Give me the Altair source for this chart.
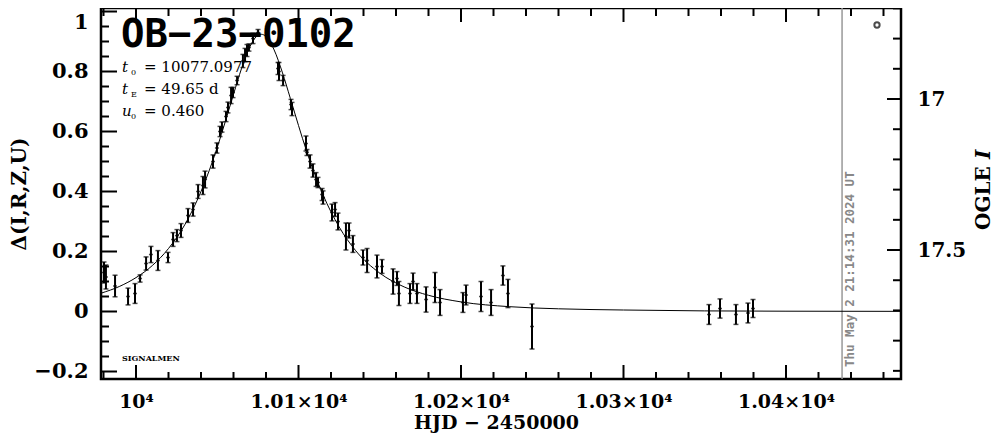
import altair as alt
import pandas as pd

# ---------------- data ----------------
# observations: HJD-2450000, Delta(I,R,Z,U), error
obs_t = [9980.3, 9981.5, 9987.1, 9995.1, 9999.4, 10002.5, 10006.2, 10009.2, 10013.5, 10019.7,
         10022.8, 10025.2, 10027.7, 10032.0, 10035.1, 10038.2, 10041.2, 10042.5, 10047.4, 10049.8,
         10051.7, 10052.9, 10055.4, 10056.6, 10058.5, 10059.7, 10062.2, 10065.8, 10067.1, 10068.3,
         10069.5, 10072.0, 10075.1, 10087.4, 10088.0, 10090.5, 10095.4, 10096.0, 10104.6, 10105.2,
         10107.1, 10108.9, 10110.8, 10112.0, 10114.5, 10115.1, 10120.6, 10122.5, 10124.3, 10129.2,
         10131.1, 10133.5, 10139.7, 10142.2, 10148.3, 10151.4, 10158.2, 10160.6, 10161.8, 10168.6,
         10170.5, 10172.9, 10178.5, 10184.0, 10187.1, 10201.2, 10203.1, 10212.3, 10218.5, 10225.8,
         10228.9, 10243.7, 10352.6, 10359.4, 10369.2, 10376.6, 10379.7]
obs_d = [0.130, 0.115, 0.085, 0.050, 0.060, 0.110, 0.160, 0.190, 0.170, 0.180,
         0.240, 0.253, 0.270, 0.320, 0.340, 0.400, 0.420, 0.440, 0.500, 0.545,
         0.600, 0.615, 0.650, 0.680, 0.720, 0.730, 0.770, 0.835, 0.855, 0.870,
         0.880, 0.910, 0.930, 0.810, 0.800, 0.770, 0.690, 0.675, 0.560, 0.530,
         0.500, 0.470, 0.440, 0.430, 0.390, 0.380, 0.330, 0.340, 0.300, 0.250,
         0.270, 0.225, 0.180, 0.170, 0.150, 0.150, 0.100, 0.110, 0.060, 0.060,
         0.100, 0.060, 0.040, 0.080, 0.030, 0.030, 0.055, 0.050, 0.030, 0.120,
         0.060, -0.050, -0.010, 0.010, -0.010, -0.005, 0.010]
obs_e = [0.035, 0.040, 0.036, 0.028, 0.033, 0.012, 0.022, 0.027, 0.033, 0.017,
         0.023, 0.020, 0.023, 0.023, 0.022, 0.023, 0.030, 0.028, 0.022, 0.017,
         0.017, 0.017, 0.017, 0.018, 0.027, 0.017, 0.014, 0.022, 0.022, 0.020,
         0.012, 0.017, 0.010, 0.020, 0.030, 0.017, 0.017, 0.022, 0.025, 0.010,
         0.022, 0.022, 0.023, 0.017, 0.020, 0.022, 0.028, 0.023, 0.028, 0.045,
         0.025, 0.028, 0.025, 0.040, 0.038, 0.023, 0.042, 0.023, 0.040, 0.033,
         0.028, 0.033, 0.042, 0.050, 0.043, 0.033, 0.033, 0.050, 0.043, 0.032,
         0.047, 0.075, 0.033, 0.032, 0.033, 0.033, 0.030]

# model curve
model_t = [9978.5, 9990, 10000, 10010, 10020, 10030, 10040, 10045, 10050, 10055, 10060, 10065,
           10070, 10074, 10077.1, 10080, 10085, 10090, 10095, 10100, 10105, 10110, 10115, 10125,
           10135, 10150, 10165, 10180, 10200, 10230, 10260, 10300, 10350, 10400, 10470.7]
model_d = [0.061, 0.084, 0.113, 0.153, 0.210, 0.289, 0.400, 0.469, 0.547, 0.634, 0.724, 0.811,
           0.882, 0.916, 0.924, 0.917, 0.872, 0.798, 0.710, 0.620, 0.534, 0.457, 0.390, 0.282,
           0.204, 0.128, 0.082, 0.054, 0.032, 0.016, 0.009, 0.005, 0.002, 0.001, 0.0005]

now_hjd = [10434.5]

# axes / ticks
x_domain = [9978.46, 10470.77]
y_domain = [-0.225, 1.0117]
mag_domain = [16.6987, 17.927]

x_major = [10000, 10100, 10200, 10300, 10400]
x_major_labels = ["10⁴", "1.01×10⁴", "1.02×10⁴", "1.03×10⁴", "1.04×10⁴"]
x_minor = [v for v in range(9980, 10470, 20) if v % 100 != 0]
y_major = [-0.2, 0.0, 0.2, 0.4, 0.6, 0.8, 1.0]
y_major_labels = ["−0.2", "0", "0.2", "0.4", "0.6", "0.8", "1"]
y_minor = [round(-0.2 + 0.05 * i, 2) for i in range(25) if i % 4 != 0]
mag_major = [17.0, 17.5]
mag_major_labels = ["17", "17.5"]
mag_minor = [16.7, 16.8, 16.9, 17.1, 17.2, 17.3, 17.4, 17.6, 17.7, 17.8, 17.9]

title_text = "OB−23−0102"
param_sym = ["t", "t", "u"]
param_sub = ["0", "E", "0"]
param_val = ["= 10077.0977", "= 49.65 d", "= 0.460"]
stamp_text = "Thu May  2 21:14:31 2024 UT"
right_title_main = "OGLE"
right_title_band = "I"

# ---------------- chart ----------------
W, H = 800, 371
SERIF = "DejaVu Serif"


def expr_labels(values, labels):
    parts = [f"abs(datum.value - ({v})) < 1e-6 ? '{l}'" for v, l in zip(values, labels)]
    return " : ".join(parts) + " : ''"


x_axis = alt.Axis(values=x_major, labelExpr=expr_labels(x_major, x_major_labels),
                  ticks=False, domain=False, grid=False, labelFont=SERIF, labelFontWeight="bold",
                  labelFontSize=19, labelPadding=13, labelColor="black",
                  title="HJD − 2450000", titleFont=SERIF, titleFontWeight="bold",
                  titleFontSize=19, titleColor="black",
                  titleX=395, titleY=43, titleBaseline="middle", titleAlign="center")
y_axis = alt.Axis(values=y_major, labelExpr=expr_labels(y_major, y_major_labels),
                  ticks=False, domain=False, grid=False, labelFont=SERIF, labelFontWeight="bold",
                  labelFontSize=21, labelPadding=13, labelColor="black",
                  labelBaseline={"condition": {"test": "datum.value > 0.99", "value": "top"},
                                 "value": "middle"},
                  title="Δ(I,R,Z,U)", titleFont=SERIF, titleFontWeight="bold",
                  titleFontSize=20, titleColor="black",
                  titleX=-82, titleY=H / 2, titleAngle=270, titleBaseline="middle",
                  titleAlign="center")
mag_axis = alt.Axis(orient="right", values=mag_major,
                    labelExpr=expr_labels(mag_major, mag_major_labels),
                    ticks=False, domain=False, grid=False, labelFont=SERIF, labelFontWeight="bold",
                    labelFontSize=20, labelPadding=16, labelColor="black", title=None)

xs = alt.Scale(domain=x_domain, nice=False, zero=False)
ys = alt.Scale(domain=y_domain, nice=False, zero=False)
ms = alt.Scale(domain=mag_domain, nice=False, zero=False, reverse=True)


def X(f):
    return alt.X(f, type="quantitative", scale=xs, axis=x_axis)


def Y(f):
    return alt.Y(f, type="quantitative", scale=ys, axis=y_axis)


obs = pd.DataFrame({"t": obs_t, "d": obs_d, "e": obs_e})
obs["lo"] = obs["d"] - obs["e"]
obs["hi"] = obs["d"] + obs["e"]
model = pd.DataFrame({"t": model_t, "d": model_d})
one = pd.DataFrame({"a": [0]})

bars = alt.Chart(obs).mark_rule(color="black", strokeWidth=2).encode(
    x=X("t"), y=Y("lo"), y2="hi")
cap_lo = alt.Chart(obs).mark_tick(orient="horizontal", color="black", size=5, thickness=1.5).encode(
    x=X("t"), y=Y("lo"))
cap_hi = alt.Chart(obs).mark_tick(orient="horizontal", color="black", size=5, thickness=1.5).encode(
    x=X("t"), y=Y("hi"))
mid = alt.Chart(obs).mark_tick(orient="horizontal", color="black", size=4, thickness=1.5).encode(
    x=X("t"), y=Y("d"))
curve = alt.Chart(model).mark_line(color="black", strokeWidth=1, interpolate="monotone").encode(
    x=X("t"), y=Y("d"))

now_line = alt.Chart(pd.DataFrame({"t": now_hjd})).mark_rule(color="#999999", strokeWidth=1.5).encode(
    x=X("t"), y=alt.value(0), y2=alt.value(H))

xmaj = pd.DataFrame({"v": x_major})
xmin = pd.DataFrame({"v": x_minor})
bot_major = alt.Chart(xmaj).mark_rule(color="black", strokeWidth=2).encode(
    x=X("v"), y=alt.value(H), y2=alt.value(H - 14))
bot_minor = alt.Chart(xmin).mark_rule(color="black", strokeWidth=2).encode(
    x=X("v"), y=alt.value(H), y2=alt.value(H - 7))
top_major = alt.Chart(xmaj).mark_rule(color="black", strokeWidth=2).encode(
    x=X("v"), y=alt.value(0), y2=alt.value(14))
top_minor = alt.Chart(xmin).mark_rule(color="black", strokeWidth=2).encode(
    x=X("v"), y=alt.value(0), y2=alt.value(8))
left_major = alt.Chart(pd.DataFrame({"v": y_major})).mark_rule(color="black", strokeWidth=2).encode(
    y=Y("v"), x=alt.value(0), x2=alt.value(16))
left_minor = alt.Chart(pd.DataFrame({"v": y_minor})).mark_rule(color="black", strokeWidth=2).encode(
    y=Y("v"), x=alt.value(0), x2=alt.value(8))

title = alt.Chart(one).mark_text(text=title_text, font="DejaVu Sans Mono", fontWeight="bold",
                                 fontSize=39, align="left", baseline="alphabetic", color="black").encode(
    x=alt.value(20), y=alt.value(39))

params = []
for i in range(len(param_sym)):
    base = 64 + 22 * i
    params.append(alt.Chart(one).mark_text(text=param_sym[i], font=SERIF, fontStyle="italic",
                                           fontSize=15, align="left", baseline="alphabetic",
                                           color="black").encode(x=alt.value(21), y=alt.value(base)))
    params.append(alt.Chart(one).mark_text(text=param_sub[i], font=SERIF, fontSize=8,
                                           align="left", baseline="alphabetic",
                                           color="black").encode(x=alt.value(30), y=alt.value(base + 3)))
    params.append(alt.Chart(one).mark_text(text=param_val[i], font=SERIF, fontSize=15,
                                           align="left", baseline="alphabetic",
                                           color="black").encode(x=alt.value(43), y=alt.value(base)))

signal = alt.Chart(one).mark_text(text="SIGNALMEN", font=SERIF, fontSize=8, fontWeight="bold",
                                  align="left", baseline="alphabetic", color="black").encode(
    x=alt.value(21), y=alt.value(353))

stamp = alt.Chart(one).mark_text(text=stamp_text, font="DejaVu Sans Mono", fontWeight="bold",
                                 fontSize=12.5, angle=270, align="left", baseline="middle",
                                 color="#888888").encode(x=alt.value(749), y=alt.value(359))

marker = alt.Chart(one).mark_point(shape="circle", filled=False, size=28, strokeWidth=2,
                                   color="black").encode(x=alt.value(776), y=alt.value(17))

rt_main = alt.Chart(one).mark_text(text=right_title_main, font=SERIF, fontWeight="bold",
                                   fontSize=20, angle=270, align="left", baseline="middle",
                                   color="black").encode(x=alt.value(883), y=alt.value(222))
rt_band = alt.Chart(one).mark_text(text=right_title_band, font=SERIF, fontWeight="bold",
                                   fontStyle="italic", fontSize=20, angle=270, align="left",
                                   baseline="middle", color="black").encode(
    x=alt.value(883), y=alt.value(151))

left_group = alt.layer(now_line, curve, bars, cap_lo, cap_hi, mid,
                       bot_major, bot_minor, top_major, top_minor, left_major, left_minor,
                       title, *params, signal, stamp, marker, rt_main, rt_band)

mmaj = pd.DataFrame({"m": mag_major})
mmin = pd.DataFrame({"m": mag_minor})
right_major = alt.Chart(mmaj).mark_rule(color="black", strokeWidth=2).encode(
    y=alt.Y("m:Q", scale=ms, axis=mag_axis), x=alt.value(W), x2=alt.value(W - 14))
right_minor = alt.Chart(mmin).mark_rule(color="black", strokeWidth=2).encode(
    y=alt.Y("m:Q", scale=ms, axis=mag_axis), x=alt.value(W), x2=alt.value(W - 8))
right_group = alt.layer(right_major, right_minor)

chart = alt.layer(left_group, right_group).resolve_scale(y="independent").properties(
    width=W, height=H,
    padding={"left": 93, "top": 0, "right": 95, "bottom": 54},
    autosize=alt.AutoSizeParams(type="none"),
    background="white",
).configure_view(stroke="black", strokeWidth=2.5)

chart.save("out.html", embed_options={"renderer": "svg", "actions": False})
